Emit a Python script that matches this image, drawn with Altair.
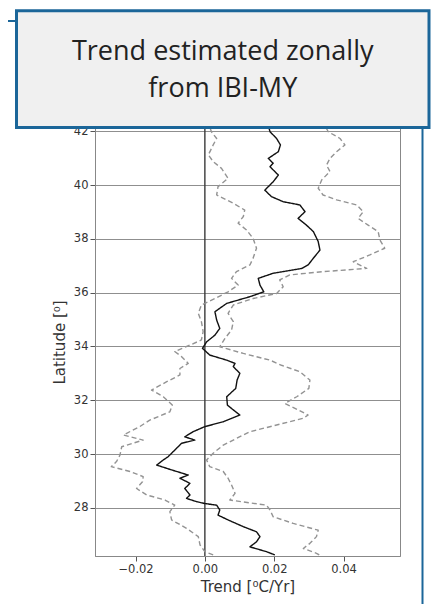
import altair as alt
import pandas as pd

# ---- data ----
lat_mean = [42.12, 41.98, 41.73, 41.49, 41.24, 40.99, 40.81, 40.68, 40.37, 40.12, 39.81, 39.57, 39.38, 39.26,
            39.01, 38.76, 38.51, 38.27, 37.90, 37.58, 37.28, 37.03, 36.90, 36.72, 36.53, 36.28, 36.03, 35.85,
            35.60, 35.29, 34.98, 34.67, 34.42, 34.17, 33.93, 33.68, 33.49, 33.37, 33.25, 33.00, 32.75, 32.44,
            32.13, 31.82, 31.64, 31.45, 31.20, 31.02, 30.83, 30.64, 30.52, 30.40, 30.21, 30.03, 29.90, 29.78,
            29.59, 29.41, 29.22, 29.10, 28.91, 28.72, 28.48, 28.35, 28.23, 28.16, 28.10, 27.92, 27.73, 27.55,
            27.30, 27.11, 26.93, 26.74, 26.55, 26.37, 26.25]
trend_mean = [0.0185, 0.0188, 0.0207, 0.0218, 0.0212, 0.0183, 0.0197, 0.0188, 0.0212, 0.0197, 0.0173, 0.0192,
              0.0226, 0.0274, 0.0289, 0.0269, 0.0293, 0.0313, 0.0327, 0.0332, 0.0313, 0.0298, 0.0280, 0.0197,
              0.0154, 0.0159, 0.0170, 0.0130, 0.0063, 0.0029, 0.0034, 0.0043, 0.0029, 0.0005, -0.0007, 0.0014,
              0.0063, 0.0087, 0.0082, 0.0101, 0.0093, 0.0089, 0.0063, 0.0065, 0.0082, 0.0101, 0.0053, 0.0000,
              -0.0034, -0.0058, -0.0029, -0.0067, -0.0082, -0.0096, -0.0106, -0.0120, -0.0139, -0.0096,
              -0.0048, -0.0072, -0.0043, -0.0058, -0.0043, -0.0053, -0.0024, 0.0000, 0.0034, 0.0043, 0.0038,
              0.0067, 0.0111, 0.0149, 0.0159, 0.0149, 0.0130, 0.0178, 0.0202]

lat_low = [42.12, 41.98, 41.73, 41.49, 41.12, 40.87, 40.62, 40.25, 39.94, 39.63, 39.32, 39.07, 38.83, 38.58,
           38.33, 38.02, 37.65, 37.28, 37.03, 36.78, 36.53, 36.28, 36.03, 35.78, 35.54, 35.23, 34.92, 34.55,
           34.24, 34.05, 33.81, 33.62, 33.37, 33.18, 32.94, 32.69, 32.38, 32.13, 31.82, 31.57, 31.26, 31.02,
           30.71, 30.52, 30.27, 29.96, 29.72, 29.53, 29.35, 29.16, 28.97, 28.72, 28.48, 28.29, 28.10, 27.86,
           27.55, 27.24, 26.93, 26.62, 26.37, 26.25]
trend_low = [0.0015, 0.0019, 0.0034, 0.0024, 0.0010, 0.0024, 0.0048, 0.0067, 0.0038, 0.0034, 0.0082, 0.0115,
             0.0111, 0.0096, 0.0120, 0.0139, 0.0149, 0.0139, 0.0130, 0.0091, 0.0077, 0.0096, 0.0067, 0.0029,
             -0.0010, -0.0019, -0.0010, -0.0005, -0.0010, -0.0043, -0.0087, -0.0067, -0.0048, -0.0072,
             -0.0072, -0.0110, -0.0154, -0.0120, -0.0094, -0.0101, -0.0159, -0.0188, -0.0235, -0.0178,
             -0.0240, -0.0245, -0.0255, -0.0270, -0.0216, -0.0178, -0.0180, -0.0197, -0.0168, -0.0115,
             -0.0087, -0.0101, -0.0096, -0.0053, -0.0019, -0.0014, 0.0000, 0.0024]

lat_high = [42.12, 41.98, 41.73, 41.49, 41.24, 40.99, 40.74, 40.50, 40.19, 39.88, 39.63, 39.45, 39.26, 39.01,
            38.76, 38.51, 38.27, 37.96, 37.65, 37.40, 37.15, 36.96, 36.90, 36.78, 36.66, 36.47, 36.22, 35.97,
            35.78, 35.54, 35.23, 34.92, 34.61, 34.30, 33.99, 33.74, 33.49, 33.30, 33.06, 32.75, 32.44, 32.13,
            31.88, 31.70, 31.45, 31.33, 31.08, 30.83, 30.58, 30.33, 30.03, 29.78, 29.53, 29.35, 29.10, 28.85,
            28.54, 28.29, 28.10, 27.92, 27.67, 27.42, 27.17, 26.93, 26.68, 26.49, 26.31, 26.25]
trend_high = [0.0350, 0.0356, 0.0390, 0.0404, 0.0380, 0.0361, 0.0351, 0.0361, 0.0337, 0.0327, 0.0341, 0.0380,
              0.0438, 0.0457, 0.0442, 0.0471, 0.0500, 0.0505, 0.0519, 0.0476, 0.0428, 0.0457, 0.0467, 0.0341,
              0.0245, 0.0216, 0.0226, 0.0207, 0.0139, 0.0082, 0.0067, 0.0082, 0.0077, 0.0058, 0.0043, 0.0111,
              0.0188, 0.0221, 0.0274, 0.0303, 0.0300, 0.0265, 0.0231, 0.0260, 0.0298, 0.0284, 0.0207, 0.0130,
              0.0091, 0.0053, 0.0024, 0.0005, 0.0014, 0.0053, 0.0067, 0.0077, 0.0087, 0.0072, 0.0178, 0.0188,
              0.0197, 0.0255, 0.0327, 0.0322, 0.0303, 0.0284, 0.0322, 0.0330]

x_ticks = [-0.02, 0.0, 0.02, 0.04]
y_ticks = [28, 30, 32, 34, 36, 38, 40, 42]
zero_line = [0.0]
title_lines = ["Trend estimated zonally", "from IBI-MY"]

# ---- tables ----
rows = []
for name, lats, vals in [("low", lat_low, trend_low), ("high", lat_high, trend_high), ("mean", lat_mean, trend_mean)]:
    for la, v in zip(lats, vals):
        rows.append({"series": name, "lat": la, "trend": v})
df = pd.DataFrame(rows)

W, H = 305, 428
xscale = alt.Scale(domain=[-0.0317, 0.0563], nice=False, zero=False)
yscale = alt.Scale(domain=[26.21, 42.12], nice=False, zero=False)

x_enc = alt.X("trend:Q", scale=xscale,
              axis=alt.Axis(values=x_ticks, format=".2f", grid=False, title="Trend [⁰C/Yr]"))
y_enc = alt.Y("lat:Q", scale=yscale,
              axis=alt.Axis(values=y_ticks, format="d", grid=True, title="Latitude [⁰]"))

lines = alt.Chart(df).mark_line(strokeJoin="round").encode(
    x=x_enc,
    y=y_enc,
    order=alt.Order("lat:Q"),
    detail="series:N",
    color=alt.Color("series:N", scale=alt.Scale(domain=["low", "high", "mean"],
                                                range=["#939393", "#939393", "#111111"]), legend=None),
    strokeDash=alt.StrokeDash("series:N", scale=alt.Scale(domain=["low", "high", "mean"],
                                                          range=[[5, 3], [5, 3], [1, 0]]), legend=None),
    strokeWidth=alt.StrokeWidth("series:N", scale=alt.Scale(domain=["low", "high", "mean"],
                                                            range=[1.4, 1.4, 2.0]), legend=None),
)

zero = alt.Chart(pd.DataFrame({"z": zero_line})).mark_rule(color="#3a3a3a", strokeWidth=1.4).encode(
    x=alt.X("z:Q", scale=xscale)
)

one = alt.Data(values=[{"k": 1}])

box = alt.Chart(one).mark_rect(fill="#f0f0f0", stroke="#1b6699", strokeWidth=3).encode(
    x=alt.value(-78.5), x2=alt.value(334), y=alt.value(-117.3), y2=alt.value(-0.5)
)
right_bar = alt.Chart(one).mark_rule(color="#1b6699", strokeWidth=2).encode(
    x=alt.value(327.5), x2=alt.value(327.5), y=alt.value(0), y2=alt.value(480)
)
left_bar = alt.Chart(one).mark_rule(color="#1b6699", strokeWidth=2).encode(
    x=alt.value(-88), x2=alt.value(-79), y=alt.value(-107), y2=alt.value(-107)
)
t1 = alt.Chart(one).mark_text(font="Open Sans", fontSize=27, color="#222222", align="center",
                              baseline="alphabetic").encode(
    x=alt.value(127.75), y=alt.value(-68), text=alt.value(title_lines[0])
)
t2 = alt.Chart(one).mark_text(font="Open Sans", fontSize=27, color="#222222", align="center",
                              baseline="alphabetic").encode(
    x=alt.value(127.75), y=alt.value(-31), text=alt.value(title_lines[1])
)

chart = alt.layer(zero, lines, box, right_bar, left_bar, t1, t2).properties(
    width=W, height=H,
    autosize=alt.AutoSizeParams(type="none"),
    padding={"left": 87, "top": 120, "right": 31, "bottom": 60},
    background="white",
).configure_view(
    stroke="#888888", strokeWidth=1
).configure_axis(
    labelFont="DejaVu Sans", labelFontSize=11.5, labelColor="#333333",
    titleFont="DejaVu Sans", titleFontSize=15, titleFontWeight="normal", titleColor="#333333",
    tickColor="#555555", tickSize=5, domainColor="#888888",
    gridColor="#8f8f8f", gridWidth=1, labelPadding=2,
).configure_axisY(
    titlePadding=6
).configure_axisX(
    titlePadding=5
)

chart.save("out.html", embed_options={"renderer": "svg", "actions": False})
